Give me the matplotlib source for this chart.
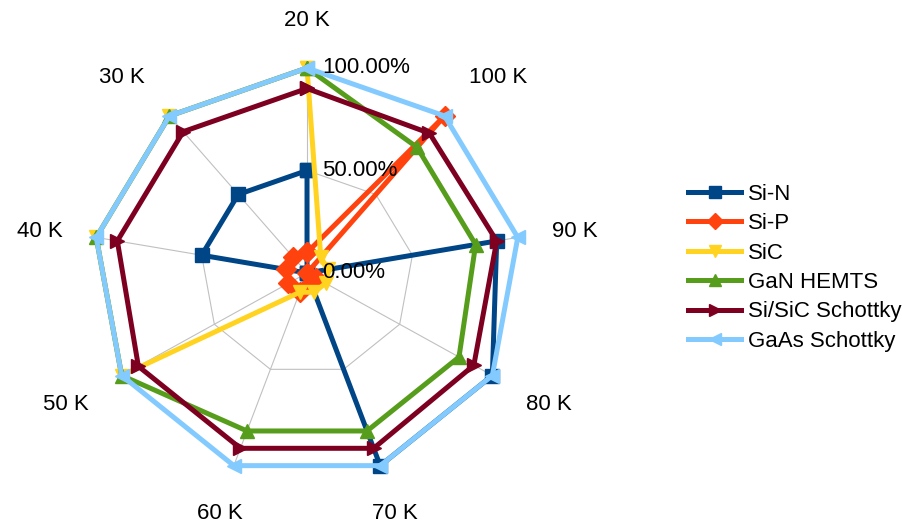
import numpy as np
import matplotlib.pyplot as plt

plt.rcParams['font.family'] = ['Liberation Sans', 'DejaVu Sans']

# temperature categories, going counter-clockwise from the top
categories = ['20 K', '30 K', '40 K', '50 K', '60 K', '70 K', '80 K', '90 K', '100 K']

si_n = [0.50, 0.50, 0.50, 0.00, 0.00, 1.00, 1.00, 0.90, 0.00]
si_p = [0.10, 0.10, 0.10, 0.10, 0.10, 0.05, 0.05, 0.00, 1.00]
sic = [1.00, 1.00, 1.00, 1.00, 0.10, 0.10, 0.10, 0.10, 0.10]
gan_hemts = [1.00, 1.00, 1.00, 1.00, 0.82, 0.82, 0.82, 0.80, 0.80]
si_sic_schottky = [0.90, 0.90, 0.90, 0.91, 0.91, 0.91, 0.90, 0.90, 0.89]
gaas_schottky = [1.00, 1.00, 1.00, 1.00, 1.00, 1.00, 1.00, 1.00, 1.00]

radial_ticks = [0.0, 0.5, 1.0]
radial_labels = ['0.00%', '50.00%', '100.00%']

series = [
    ('Si-N', si_n, '#004586', 's'),
    ('Si-P', si_p, '#ff420e', 'D'),
    ('SiC', sic, '#ffd320', 'v'),
    ('GaN HEMTS', gan_hemts, '#579d1c', '^'),
    ('Si/SiC Schottky', si_sic_schottky, '#7e0021', '>'),
    ('GaAs Schottky', gaas_schottky, '#83caff', '<'),
]

fig = plt.figure(figsize=(9.03, 5.25), dpi=100)
ax = fig.add_axes([0.103, 0.0895, 0.474, 0.781], projection='polar')
ax.set_aspect('auto')
ax.set_theta_offset(np.pi / 2)
ax.set_ylim(0, 1)
ax.axis('off')

theta = np.linspace(0, 2 * np.pi, len(categories), endpoint=False)
theta_closed = np.append(theta, theta[0])

# net grid: polygon rings and spokes
grid_col = '#c0c0c0'
for r in radial_ticks[1:]:
    ax.plot(theta_closed, [r] * len(theta_closed), color=grid_col, lw=0.8, zorder=1, clip_on=False)
for t in theta:
    ax.plot([t, t], [0, 1], color=grid_col, lw=0.8, zorder=1, clip_on=False)

for name, vals, col, mk in series:
    v = np.append(vals, vals[0])
    ax.plot(theta_closed, v, color=col, lw=3.6, marker=mk, markersize=10,
            label=name, zorder=3, clip_on=False)

# category labels around the net
for t, lab in zip(theta, categories):
    x = -np.sin(t)
    y = np.cos(t)
    r = 1.18
    if abs(x) < 0.4:
        ha = 'center'
    elif x > 0:
        ha = 'left'
    else:
        ha = 'right'
    if y > 0.3:
        va = 'bottom'
    elif y < -0.3:
        va = 'top'
        if abs(x) < 0.4:
            r = 1.195
    else:
        va = 'center'
        r = 1.16
    ax.text(t, r, lab, ha=ha, va=va, fontsize=16, color='black')

for r, lab in zip(radial_ticks, radial_labels):
    ax.annotate(lab, xy=(0, r), xytext=(11, 0), textcoords='offset points',
                ha='left', va='center', fontsize=16, zorder=5)

fig.legend(loc='center left', bbox_to_anchor=(0.762, 0.49), frameon=False,
           fontsize=16, handlelength=2.4, handletextpad=0.3, labelspacing=0.38,
           borderpad=0, borderaxespad=0, markerscale=0.8)

fig.savefig('out.png', dpi=100)
